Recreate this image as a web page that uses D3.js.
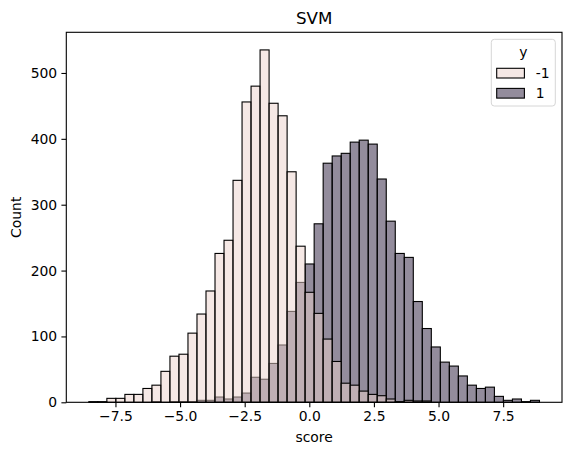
<!DOCTYPE html>
<html>
<head>
<meta charset="utf-8">
<script src="https://cdn.jsdelivr.net/npm/d3@7"></script>
<style>
  body { margin: 0; background: #fff; }
  text { font-family: "DejaVu Sans", sans-serif; fill: #000; }
</style>
</head>
<body>
<svg id="chart" width="571" height="455"></svg>
<script>
var width = 571, height = 455

// histogram bins (common to both classes)
var binStart = -8.53, binWidth = 0.3487

var classes = ["-1", "1"]
var countsNeg = [1, 1, 6, 6, 12, 12, 21, 26, 47, 70,
                 73, 105, 134, 169, 226, 246, 337, 456, 480, 535,
                 454, 435, 350, 237, 167, 135, 96, 62, 29, 26,
                 17, 12, 10, 5, 1, 3, 2, 2, 0, 0,
                 0, 0, 0, 0, 0, 0, 0, 0, 0, 0]
var countsPos = [0, 0, 0, 0, 0, 0, 0, 1, 0, 1,
                 1, 1, 3, 3, 8, 5, 8, 14, 38, 35,
                 59, 87, 138, 182, 210, 271, 363, 374, 378, 395,
                 398, 392, 339, 275, 226, 220, 153, 112, 84, 61,
                 55, 40, 26, 21, 23, 9, 3, 5, 1, 3]
var xTicks = [-7.5, -5.0, -2.5, 0.0, 2.5, 5.0, 7.5]
var yTicks = [0, 100, 200, 300, 400, 500]

var colors = {"-1": "rgb(235,209,203)", "1": "rgb(39,25,57)"}

var margin = {left: 66.3, right: 571 - 562, top: 32.3, bottom: 455 - 402.3}

var bins = countsNeg.map((c, i) => ({
  x0: binStart + i * binWidth,
  x1: binStart + (i + 1) * binWidth,
  neg: c,
  pos: countsPos[i]
}))

var xmin = binStart, xmax = binStart + bins.length * binWidth
var pad = (xmax - xmin) * 0.05
var ymax = d3.max(bins, d => Math.max(d.neg, d.pos)) * 1.05

var x = d3.scaleLinear()
  .domain([xmin - pad, xmax + pad])
  .range([margin.left, width - margin.right])

var y = d3.scaleLinear()
  .domain([0, ymax])
  .range([height - margin.bottom, margin.top])

var svg = d3.select('#chart')

// class 1 first, class -1 layered on top (as seaborn does)
function drawBars(key, color) {
  svg.append('g')
    .selectAll('rect')
    .data(bins.filter(d => d[key] > 0))
    .enter()
    .append('rect')
    .attr('x', d => x(d.x0))
    .attr('width', d => x(d.x1) - x(d.x0))
    .attr('y', d => y(d[key]))
    .attr('height', d => y(0) - y(d[key]))
    .attr('fill', color)
    .attr('fill-opacity', 0.5)
    .attr('stroke', '#000')
    .attr('stroke-width', 1.1)
}
drawBars('pos', colors["1"])
drawBars('neg', colors["-1"])

// axes
var fmt = d3.format('.1f')
var xAxis = svg.append('g')
  .attr('transform', `translate(0,${y(0)})`)
  .call(d3.axisBottom(x).tickValues(xTicks).tickSize(4.9).tickPadding(4.2)
    .tickFormat(d => fmt(d).replace('-', '\u2212')))
var yAxis = svg.append('g')
  .attr('transform', `translate(${x.range()[0]},0)`)
  .call(d3.axisLeft(y).tickValues(yTicks).tickSize(4.9).tickPadding(4.2))

svg.selectAll('.tick text').style('font-size', '13.9px').style('font-family', '"DejaVu Sans", sans-serif')
svg.selectAll('.tick line').attr('stroke-width', 1.1)
svg.selectAll('.domain').remove()

// frame
svg.append('rect')
  .attr('x', x.range()[0])
  .attr('y', y.range()[1])
  .attr('width', x.range()[1] - x.range()[0])
  .attr('height', y.range()[0] - y.range()[1])
  .attr('fill', 'none')
  .attr('stroke', '#000')
  .attr('stroke-width', 1.1)

// labels
var cx = (x.range()[0] + x.range()[1]) / 2
svg.append('text')
  .attr('x', cx).attr('y', 24)
  .attr('text-anchor', 'middle')
  .style('font-size', '16.7px')
  .text('SVM')

svg.append('text')
  .attr('x', cx).attr('y', 442)
  .attr('text-anchor', 'middle')
  .style('font-size', '13.9px')
  .text('score')

svg.append('text')
  .attr('transform', `translate(21,${(y.range()[0] + y.range()[1]) / 2}) rotate(-90)`)
  .attr('text-anchor', 'middle')
  .style('font-size', '13.9px')
  .text('Count')

// legend
var lg = svg.append('g').attr('transform', 'translate(491.3,39.3)')
lg.append('rect')
  .attr('width', 64).attr('height', 66.7)
  .attr('rx', 3)
  .attr('fill', '#fff').attr('fill-opacity', 0.8)
  .attr('stroke', '#d6d6d6').attr('stroke-width', 1)
lg.append('text')
  .attr('x', 32).attr('y', 17.5)
  .attr('text-anchor', 'middle')
  .style('font-size', '13.9px')
  .text('y')
classes.forEach((c, i) => {
  var row = lg.append('g').attr('transform', `translate(5.4,${29 + i * 20.1})`)
  row.append('rect')
    .attr('width', 27.7).attr('height', 9.7)
    .attr('fill', colors[c]).attr('fill-opacity', 0.5)
    .attr('stroke', '#000').attr('stroke-width', 1.1)
  row.append('text')
    .attr('x', 39).attr('y', 9.7)
    .style('font-size', '13.9px')
    .text(c)
})
</script>
</body>
</html>
